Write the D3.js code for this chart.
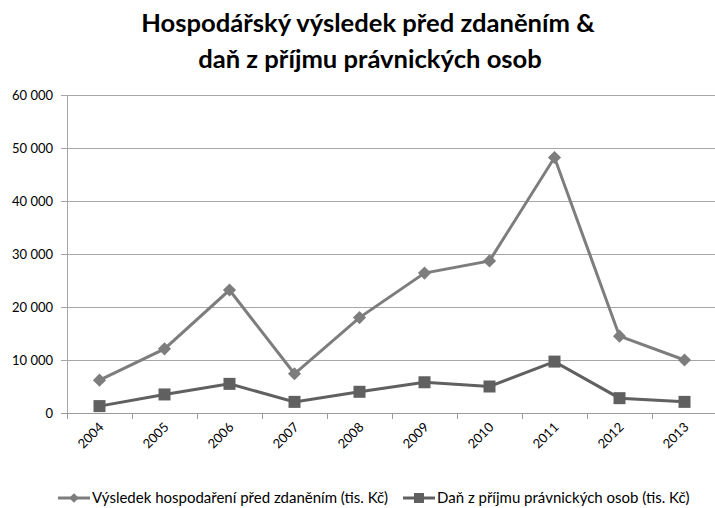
<!DOCTYPE html>
<html>
<head>
<meta charset="utf-8">
<script src="https://cdn.jsdelivr.net/npm/d3@7"></script>
<style>
  body { margin: 0; background: #fff; }
  svg { display: block; font-family: Lato, "Open Sans", sans-serif; }
</style>
</head>
<body>
<svg id="chart"></svg>
<script>
// data
const years = ["2004", "2005", "2006", "2007", "2008", "2009", "2010", "2011", "2012", "2013"];
const vysledek = [6200, 12100, 23200, 7400, 18000, 26400, 28700, 48200, 14500, 10000];
const dan = [1300, 3500, 5500, 2100, 4000, 5800, 5000, 9700, 2800, 2100];
const yTicks = [0, 10000, 20000, 30000, 40000, 50000, 60000];
const seriesNames = ["Výsledek hospodaření před zdaněním (tis. Kč)", "Daň z příjmu právnických osob (tis. Kč)"];

const width = 715;
const height = 508;

const svg = d3.select("#chart").attr("width", width).attr("height", height);

const x = d3.scaleBand().domain(years).range([67, 717]);
const y = d3.scaleLinear().domain([0, 60000]).range([413, 95]);

// title
const title = svg.append("text")
  .attr("text-anchor", "middle")
  .attr("font-size", 25.6)
  .attr("font-weight", "bold")
  .attr("fill", "#000");
title.append("tspan").attr("x", 368).attr("y", 32).text("Hospodářský výsledek před zdaněním &");
title.append("tspan").attr("x", 370).attr("y", 68).text("daň z příjmu právnických osob");

// gridlines
svg.append("g")
  .selectAll("line")
  .data(yTicks)
  .enter()
  .append("line")
  .attr("x1", 61)
  .attr("x2", 717)
  .attr("y1", (d) => Math.round(y(d)) + 0.5)
  .attr("y2", (d) => Math.round(y(d)) + 0.5)
  .attr("stroke", (d) => (d === 0 ? "#9a9a9a" : "#a6a6a6"))
  .attr("stroke-width", 1);

// y axis line
svg.append("line")
  .attr("x1", 67.5).attr("x2", 67.5)
  .attr("y1", 95).attr("y2", 413)
  .attr("stroke", "#a6a6a6");

// y labels
const fmt = (d) => (d === 0 ? "0" : d3.format(",")(d).replace(",", " "));
svg.append("g")
  .selectAll("text")
  .data(yTicks)
  .enter()
  .append("text")
  .attr("x", 53)
  .attr("y", (d) => y(d) + 5)
  .attr("text-anchor", "end")
  .attr("font-size", 13)
  .attr("fill", "#000")
  .text(fmt);

// x tick marks at band boundaries
const bounds = years.map((d) => x(d)).concat([x.range()[1]]);
svg.append("g")
  .selectAll("line")
  .data(bounds)
  .enter()
  .append("line")
  .attr("x1", (d) => Math.round(d) + 0.5)
  .attr("x2", (d) => Math.round(d) + 0.5)
  .attr("y1", 413)
  .attr("y2", 419)
  .attr("stroke", "#9a9a9a");

// x labels rotated
svg.append("g")
  .selectAll("text")
  .data(years)
  .enter()
  .append("text")
  .attr("transform", (d) => `translate(${x(d) + x.bandwidth() / 2 + 5},${428}) rotate(-45)`)
  .attr("text-anchor", "end")
  .attr("font-size", 13)
  .attr("fill", "#000")
  .text((d) => d);

const cx = (i) => x(years[i]) + x.bandwidth() / 2;
const line = d3.line().x((d, i) => cx(i)).y((d) => y(d));

const colors = ["#7d7d7d", "#606060"];

// series 1: diamonds
svg.append("path")
  .datum(vysledek)
  .attr("fill", "none")
  .attr("stroke", colors[0])
  .attr("stroke-width", 3)
  .attr("d", line);

const diamond = d3.symbol().type(d3.symbolDiamond2).size(110);
svg.append("g")
  .selectAll("path")
  .data(vysledek)
  .enter()
  .append("path")
  .attr("d", diamond)
  .attr("transform", (d, i) => `translate(${cx(i)},${y(d)})`)
  .attr("fill", colors[0]);

// series 2: squares
svg.append("path")
  .datum(dan)
  .attr("fill", "none")
  .attr("stroke", colors[1])
  .attr("stroke-width", 3)
  .attr("d", line);

svg.append("g")
  .selectAll("rect")
  .data(dan)
  .enter()
  .append("rect")
  .attr("x", (d, i) => cx(i) - 6)
  .attr("y", (d) => y(d) - 6)
  .attr("width", 12)
  .attr("height", 12)
  .attr("fill", colors[1]);

// legend
const legend = svg.append("g").attr("transform", "translate(0,503)");
const legX = [58, 403];
seriesNames.forEach((name, i) => {
  const g = legend.append("g").attr("transform", `translate(${legX[i]},0)`);
  g.append("line")
    .attr("x1", 0).attr("x2", 32)
    .attr("y1", -5).attr("y2", -5)
    .attr("stroke", colors[i])
    .attr("stroke-width", 3);
  if (i === 0) {
    g.append("path")
      .attr("d", d3.symbol().type(d3.symbolDiamond2).size(60))
      .attr("transform", "translate(16,-5)")
      .attr("fill", colors[i]);
  } else {
    g.append("rect")
      .attr("x", 11).attr("y", -10)
      .attr("width", 10).attr("height", 10)
      .attr("fill", colors[i]);
  }
  g.append("text")
    .attr("x", 34)
    .attr("y", 0)
    .attr("font-size", 15)
    .attr("fill", "#000")
    .text(name);
});
</script>
</body>
</html>
